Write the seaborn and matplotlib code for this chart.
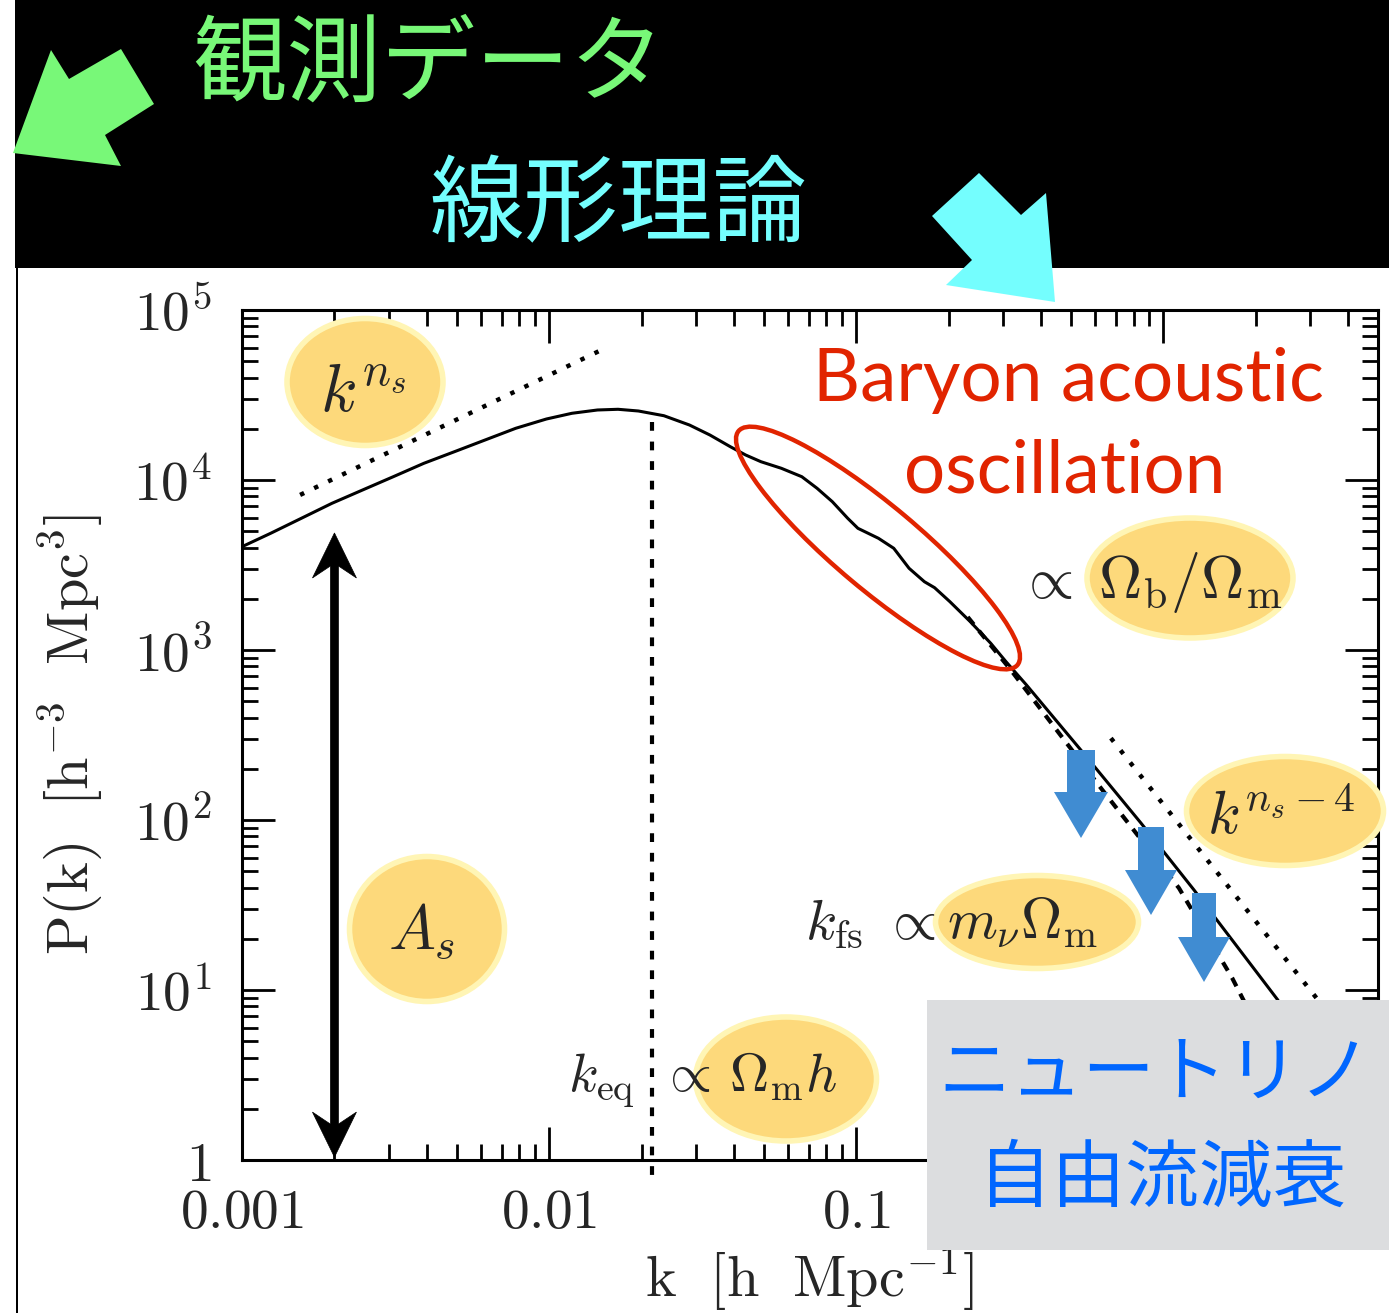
import matplotlib
matplotlib.use("Agg")
import matplotlib.pyplot as plt
from matplotlib.patches import Ellipse, Polygon, Rectangle
from matplotlib.transforms import IdentityTransform
from matplotlib.ticker import LogLocator, NullFormatter
import numpy as np
import pandas as pd
import seaborn as sns

# ---------------------------------------------------------------- data ----
# linear matter power spectrum P(k) [h^-3 Mpc^3] vs k [h/Mpc]
k_lin = [0.001, 0.00124, 0.00156, 0.001963, 0.002469, 0.003109, 0.00391,
         0.00492, 0.006188, 0.007789, 0.009799, 0.011868, 0.014373, 0.016762,
         0.019531, 0.023648, 0.028642, 0.033389, 0.038905, 0.043631, 0.048944,
         0.057054, 0.066499, 0.07456, 0.083602, 0.093825, 0.10127, 0.11815,
         0.13251, 0.14863, 0.16672, 0.17991, 0.20184, 0.23523, 0.27416,
         0.30749, 0.35837, 0.5387, 0.8453, 1.258, 2.192, 2.363]
p_lin = [4052, 4860, 5952, 7294, 8733, 10457, 12538,
         14676, 17193, 20150, 22845, 24687, 25813, 26058,
         25463, 23885, 21061, 18393, 15700, 14035, 12813,
         11716, 10457, 8937, 7454, 5952, 5198, 4540,
         3965, 3024, 2522, 2326, 1924, 1467, 1095,
         853, 622.6, 258, 96, 38.8, 10.4, 8.7]

# spectrum with neutrino free-streaming suppression
k_nu = [0.2307, 0.3187, 0.626, 1.124, 1.674, 1.858]
p_nu = [1564, 763, 154.2, 39.8, 11.8, 8.16]

# asymptotic power laws: k^ns (large scales) and k^(ns-4) (small scales)
k_prim = [0.001546, 0.01524]
p_prim = [8170, 59700]
k_tail = [0.675, 3.19]
p_tail = [303, 8.73]

# matter-radiation equality scale
k_eq = 0.02164
p_eq_span = [22000, 0.82]

# amplitude arrow
k_as = 0.002
p_as_span = [1.04, 4880]

x_ticks = [0.001, 0.01, 0.1, 1]
x_tick_labels = ["$0.001$", "$0.01$", "$0.1$", ""]
y_ticks = [1, 1e1, 1e2, 1e3, 1e4, 1e5]
y_tick_labels = ["$1$", "$10^{1}$", "$10^{2}$", "$10^{3}$", "$10^{4}$", "$10^{5}$"]

# --------------------------------------------------------------- style ----
sns.set_style("ticks")
plt.rcParams["mathtext.fontset"] = "cm"
plt.rcParams["font.family"] = ["DejaVu Sans"]

W, H = 1389, 1313
fig = plt.figure(figsize=(W / 100, H / 100), dpi=100)
fig.patch.set_facecolor("white")


def fx(px):
    return px / W


def fy(py):
    return 1 - py / H


def disp(x, y):
    """pixel position measured from the top-left -> display coordinates"""
    return (x, H - y)


ax = fig.add_axes([fx(242), fy(1160), (1378 - 242) / W, (1160 - 310) / H])
ax.set_xscale("log")
ax.set_yscale("log")
ax.set_xlim(0.001, 5.0)
ax.set_ylim(1, 1e5)

spec = pd.DataFrame({"k": k_lin, "P": p_lin})
sns.lineplot(data=spec, x="k", y="P", ax=ax, color="black", lw=2.2,
             sort=False, estimator=None)
ax.plot(k_nu, p_nu, color="black", lw=3.0, dashes=(2.3, 2.0))
ax.plot(k_prim, p_prim, color="black", lw=3.2, dashes=(1, 2.5))
ax.plot(k_tail, p_tail, color="black", lw=3.2, dashes=(1, 2.5))
ax.plot([k_eq, k_eq], p_eq_span, color="black", lw=3.0, dashes=(2.1, 2.6),
        clip_on=False)

ax.set_xticks(x_ticks, labels=x_tick_labels)
ax.set_yticks(y_ticks, labels=y_tick_labels)
ax.xaxis.set_minor_locator(LogLocator(base=10, subs=np.arange(2, 10), numticks=20))
ax.yaxis.set_minor_locator(LogLocator(base=10, subs=np.arange(2, 10), numticks=20))
ax.xaxis.set_minor_formatter(NullFormatter())
ax.yaxis.set_minor_formatter(NullFormatter())
ax.tick_params(which="major", direction="in", length=24, width=2.0,
               top=True, right=True, labelsize=40, color="black")
ax.tick_params(which="minor", direction="in", length=11.5, width=2.0,
               top=True, right=True, color="black")
ax.tick_params(axis="x", which="major", pad=19)
ax.tick_params(axis="y", which="major", pad=22)
for sp in ax.spines.values():
    sp.set_linewidth(2.2)
    sp.set_color("black")

ax.set_xlabel(r"$\mathrm{k}\ \ [\mathrm{h}\ \ \mathrm{Mpc}^{-1}]$", fontsize=42)
ax.set_ylabel(r"$\mathrm{P(k)}\ \ [\mathrm{h}^{-3}\ \ \mathrm{Mpc}^{3}]$", fontsize=42)
ax.xaxis.label.set_verticalalignment("center")
ax.yaxis.label.set_verticalalignment("center")
ax.xaxis.set_label_coords(0.5, (1160 - 1279) / 850)
ax.yaxis.set_label_coords((70 - 242) / 1136, 0.5)

ident = IdentityTransform()

# --------------------------------------------------- slide decorations ----
fig.add_artist(Rectangle(disp(15, 268), W - 15, 268, transform=ident,
                         facecolor="black", edgecolor="none", zorder=1))
fig.add_artist(Rectangle(disp(16, 1313), 2, 1313 - 268, transform=ident,
                         facecolor="black", edgecolor="none", zorder=1))

green_arrow = [(13, 153), (51, 50), (69, 79), (121, 49), (154, 104),
               (105, 135), (121, 166)]
fig.add_artist(Polygon([disp(*p) for p in green_arrow], closed=True,
                       transform=ident, facecolor="#78F878", edgecolor="none",
                       zorder=2))
cyan_arrow = [(979, 173), (1021, 215), (1046, 193), (1055, 302), (946, 285),
              (972, 260), (932, 216)]
fig.add_artist(Polygon([disp(*p) for p in cyan_arrow], closed=True,
                       transform=ident, facecolor="#74FEFE", edgecolor="none",
                       zorder=2))

jp = ["Noto Sans CJK JP", "DejaVu Sans"]
fig.text(fx(428), fy(67), "観測データ", color="#78F878", fontsize=68,
         family=jp, ha="center", va="center", zorder=3)
fig.text(fx(619), fy(207), "線形理論", color="#74FEFE", fontsize=68,
         family=jp, ha="center", va="center", zorder=3)

# -------------------------------------------------- BAO highlight -------
fig.add_artist(Ellipse(disp(878, 548), 364, 84, angle=-40, transform=ident,
                       facecolor="none", edgecolor="#E12400", lw=3.2, zorder=3))
fig.text(fx(1068), fy(401), "Baryon acoustic", color="#E12400", fontsize=52.5,
         family=["Lato", "DejaVu Sans"], ha="center", va="baseline", zorder=3)
fig.text(fx(1065), fy(493), "oscillation", color="#E12400", fontsize=52.5,
         family=["Lato", "DejaVu Sans"], ha="center", va="baseline", zorder=3)

# ------------------------------------------------------ parameter badges ----
badges = [((365, 382), 156, 127), ((427, 929), 155, 145),
          ((1190, 578), 206, 120), ((1285, 811), 197, 109),
          ((1037, 922), 203, 93), ((786, 1079), 181, 124)]
for (cx, cy), bw, bh in badges:
    fig.add_artist(Ellipse(disp(cx, cy), bw, bh, transform=ident,
                           facecolor="#FDD97B", edgecolor="#FFF5B5", lw=4,
                           zorder=2))

fig.text(fx(320), fy(411), r"$k^{n_s}$", fontsize=48, ha="left",
         va="baseline", zorder=3)
fig.text(fx(388), fy(948), r"$A_s$", fontsize=45, ha="left", va="baseline",
         zorder=3)
fig.text(fx(1018), fy(598), r"$\propto$", fontsize=42, ha="left",
         va="baseline", zorder=3)
fig.text(fx(1098), fy(598), r"$\Omega_{\mathrm{b}}/\Omega_{\mathrm{m}}$",
         fontsize=43, ha="left", va="baseline", zorder=3)
fig.text(fx(1207), fy(834), r"$k^{n_s-4}$", fontsize=43, ha="left",
         va="baseline", zorder=3)
fig.text(fx(805), fy(938), r"$k_{\mathrm{fs}}\ \propto$", fontsize=41,
         ha="left", va="baseline", zorder=3)
fig.text(fx(947), fy(938), r"$m_{\nu}\Omega_{\mathrm{m}}$", fontsize=41,
         ha="left", va="baseline", zorder=3)
fig.text(fx(568), fy(1092), r"$k_{\mathrm{eq}}$", fontsize=39, ha="left",
         va="baseline", zorder=3)
fig.text(fx(660), fy(1092), r"$\propto\,\Omega_{\mathrm{m}}h$", fontsize=39,
         ha="left", va="baseline", zorder=3)

# ------------------------------------------------ amplitude double arrow ----
(xa, yb), (_, yt) = ax.transData.transform([(k_as, p_as_span[0]),
                                            (k_as, p_as_span[1])])
hw, hl, nl, sw = 22, 45, 33, 4
arrow_pts = [(xa, yt), (xa + hw, yt - hl), (xa + sw, yt - nl),
             (xa + sw, yb + nl), (xa + hw, yb + hl), (xa, yb),
             (xa - hw, yb + hl), (xa - sw, yb + nl), (xa - sw, yt - nl),
             (xa - hw, yt - hl)]
fig.add_artist(Polygon(arrow_pts, closed=True, transform=ident,
                       facecolor="black", edgecolor="black", lw=0.5, zorder=2))


# ---------------------------------------- free-streaming suppression arrows ----
def down_arrow(cx, top, neck, tip, shaft_w, head_w):
    pts = [(cx - shaft_w / 2, top), (cx + shaft_w / 2, top),
           (cx + shaft_w / 2, neck), (cx + head_w / 2, neck), (cx, tip),
           (cx - head_w / 2, neck), (cx - shaft_w / 2, neck)]
    return Polygon([disp(*p) for p in pts], closed=True, transform=ident,
                   facecolor="#408CD2", edgecolor="none", zorder=4)


fig.add_artist(down_arrow(1081, 750, 792, 838, 28, 54))
fig.add_artist(down_arrow(1151, 827, 870, 915, 26, 52))
fig.add_artist(down_arrow(1204, 893, 937, 982, 24, 52))

# ------------------------------------------------------ neutrino panel ----
fig.add_artist(Rectangle(disp(927, 1250), W - 927, 250, transform=ident,
                         facecolor="#DCDDDF", edgecolor="none", zorder=5))
fig.text(fx(1155), fy(1074), "ニュートリノ", color="#0066FF", fontsize=52,
         family=jp, ha="center", va="center", zorder=6)
fig.text(fx(1162), fy(1180), "自由流減衰", color="#0066FF", fontsize=53,
         family=jp, ha="center", va="center", zorder=6)

fig.savefig("out.png", dpi=100, facecolor="white")
